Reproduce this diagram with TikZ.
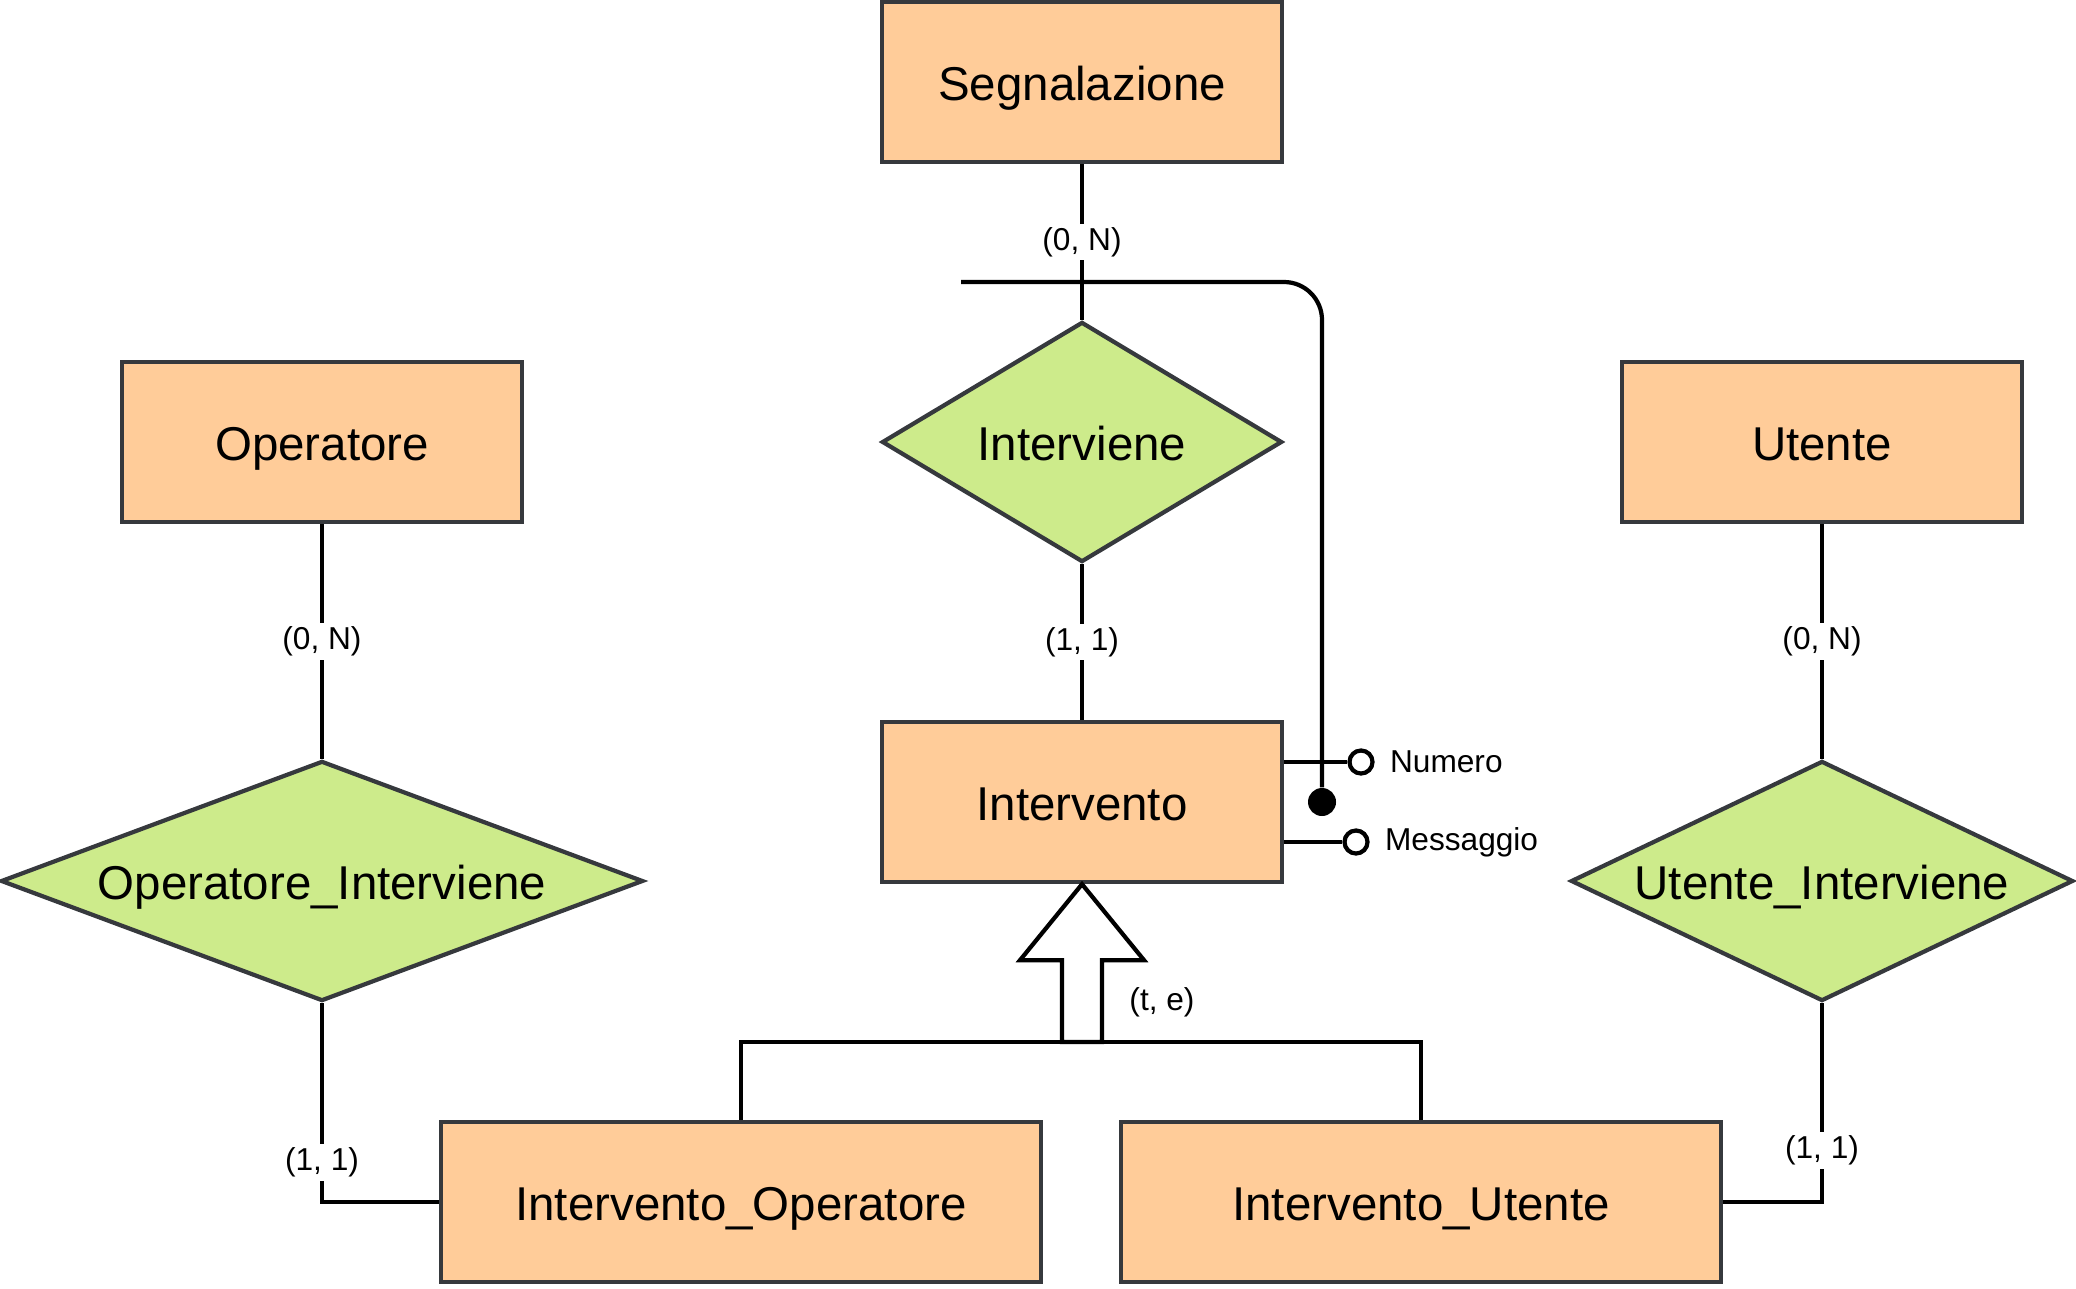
\documentclass[tikz,border=0pt]{standalone}
\usepackage{fontspec}
\setmainfont{Liberation Sans}
\usetikzlibrary{positioning, shapes.geometric, calc}
\definecolor{entityfill}{HTML}{FFCC99}
\definecolor{relfill}{HTML}{CDEB8B}
\definecolor{edgegray}{HTML}{36393D}

\begin{document}
\begin{tikzpicture}[x=0.01cm, y=-0.01cm,
    entity/.style={draw=edgegray, line width=1.2pt, fill=entityfill, rectangle, minimum width=4cm, minimum height=1.6cm, text height=1.05em, text depth=0pt, font=\fontsize{13.5}{16}\selectfont},
    relation/.style={draw=edgegray, line width=1.2pt, fill=relfill, diamond, inner sep=0pt, minimum height=2.4cm, text height=1.05em, text depth=0pt, font=\fontsize{13.5}{16}\selectfont},
    link/.style={line width=1.2pt},
    card/.style={fill=white, inner sep=1pt, font=\fontsize{9}{11}\selectfont},
    attr/.style={circle, draw, fill=white, line width=1.2pt, minimum size=0.23cm, inner sep=0pt},
    attrlabel/.style={font=\fontsize{9}{11}\selectfont}
  ]
  \path[use as bounding box] (0,0) rectangle (2076,1288);

  % entities and relations
  \node[entity] (segnalazione) at (1082,82) {Segnalazione};
  \node[relation, minimum width=4cm, shape aspect=1.67] (interviene) at (1082,442) {Interviene};
  \node[entity] (intervento) at (1082,802) {Intervento};
  \node[entity] (operatore) at (322,442) {Operatore};
  \node[relation, minimum width=6.42cm, shape aspect=2.67] (opint) at (322,881) {Operatore\_Interviene};
  \node[entity] (utente) at (1822,442) {Utente};
  \node[relation, minimum width=5.02cm, shape aspect=2.09] (utint) at (1822,881) {Utente\_Interviene};
  \node[entity, minimum width=6cm] (intop) at (741,1202) {Intervento\_Operatore};
  \node[entity, minimum width=6cm] (intut) at (1421,1202) {Intervento\_Utente};

  % links with cardinalities
  \draw[link] (segnalazione) -- node[card] {(0, N)} (interviene);
  \draw[link] (interviene) -- node[card] {(1, 1)} (intervento);
  \draw[link] (operatore) -- node[card] {(0, N)} (opint);
  \draw[link] (utente) -- node[card] {(0, N)} (utint);
  \draw[link] (opint.south) |- node[card, pos=0.4] {(1, 1)} (intop.west);
  \draw[link] (utint.south) |- node[card, pos=0.37] {(1, 1)} (intut.east);

  % external identifier
  \coordinate (idstart) at (961,282);
  \node[circle, fill=black, minimum size=0.28cm, inner sep=0pt] (iddot) at (1322,802) {};
  \draw[link, rounded corners=0.38cm] (idstart) -| (iddot);

  % attributes
  \node[attr, label={[attrlabel, label distance=0.03cm]right:Numero}] (numero) at (1361,762) {};
  \node[attr, label={[attrlabel, label distance=0.03cm]right:Messaggio}] (messaggio) at (1356,842) {};
  \draw[link] (intervento.east |- numero) -- (numero);
  \draw[link] (intervento.east |- messaggio) -- (messaggio);

  % generalization
  \coordinate (hub) at (1082,1042);
  \draw[link] (intop.north) |- (hub) -| (intut.north);
  \draw[link, fill=white, line join=miter] ($(hub)+(-20,0)$) -- ($(intervento.south)+(-20,76)$)
    -- ($(intervento.south)+(-62,76)$) -- (intervento.south) -- ($(intervento.south)+(62,76)$)
    -- ($(intervento.south)+(20,76)$) -- ($(hub)+(20,0)$) -- cycle;
  \node[attrlabel] (copertura) at (1162,1002) {(t, e)};
\end{tikzpicture}
\end{document}
